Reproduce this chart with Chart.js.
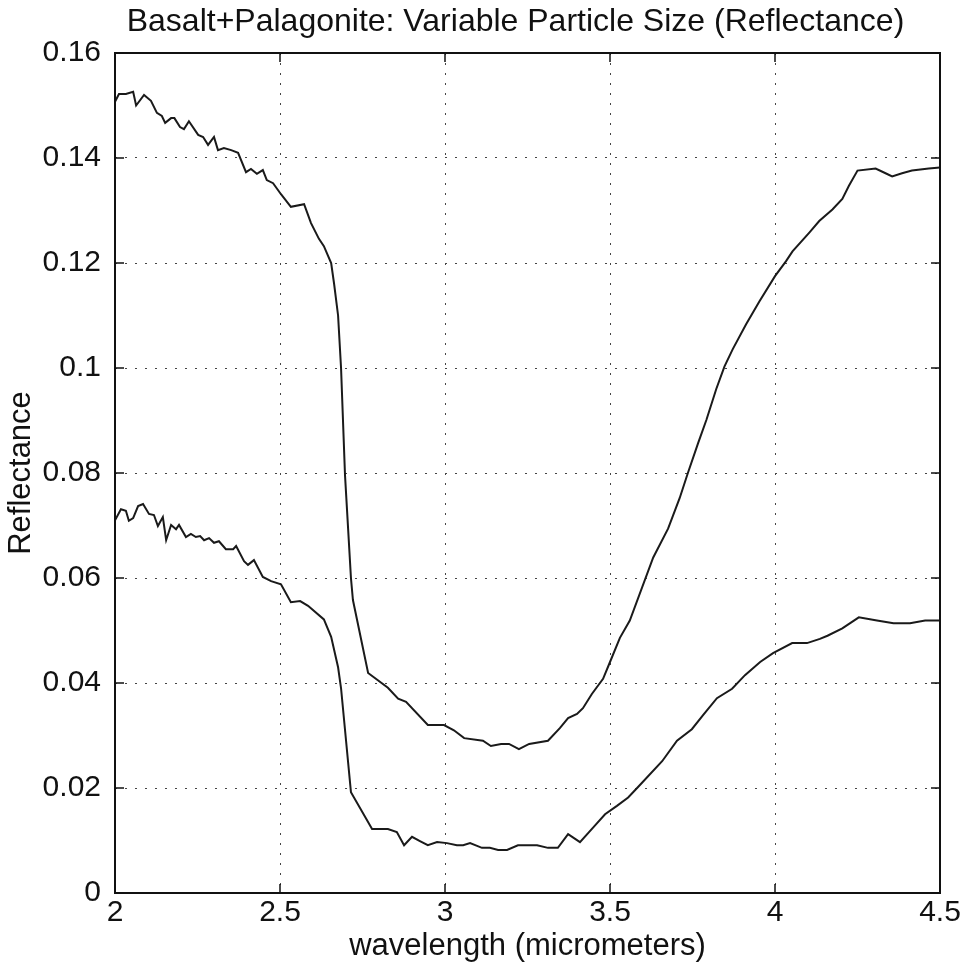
<!DOCTYPE html>
<html>
<head>
<meta charset="utf-8">
<script src="https://cdn.jsdelivr.net/npm/chart.js@4.4.1/dist/chart.umd.min.js"></script>
<style>
  html, body { margin: 0; padding: 0; background: #fff; }
</style>
</head>
<body>
<canvas id="reflChart" width="967" height="968"></canvas>
<script>
// upper curve - wavelength in micrometers, reflectance
const upperWl = [2.000, 2.012, 2.033, 2.055, 2.064, 2.088, 2.109, 2.127, 2.142, 2.152, 2.170, 2.180, 2.197, 2.209, 2.224,
  2.252, 2.267, 2.282, 2.300, 2.312, 2.330, 2.352, 2.373, 2.397, 2.412, 2.430, 2.448, 2.460, 2.479, 2.503,
  2.533, 2.573, 2.594, 2.618, 2.633, 2.655, 2.664, 2.676, 2.685, 2.697, 2.715, 2.721, 2.767, 2.827, 2.858,
  2.882, 2.948, 2.997, 3.027, 3.058, 3.115, 3.139, 3.170, 3.194, 3.224, 3.255, 3.312, 3.348, 3.373, 3.400,
  3.418, 3.445, 3.479, 3.500, 3.530, 3.560, 3.631, 3.676, 3.711, 3.736, 3.767, 3.792, 3.822, 3.847, 3.872,
  3.912, 3.953, 4.000, 4.033, 4.053, 4.104, 4.134, 4.174, 4.204, 4.224, 4.250, 4.305, 4.335, 4.355, 4.385,
  4.415, 4.466, 4.500];
const upperRefl = [0.1507, 0.1522, 0.1522, 0.1526, 0.1500, 0.1520, 0.1509, 0.1486, 0.1480, 0.1467, 0.1476, 0.1476, 0.1459, 0.1455, 0.1470,
  0.1444, 0.1440, 0.1425, 0.1440, 0.1415, 0.1419, 0.1415, 0.1410, 0.1373, 0.1379, 0.1370, 0.1377, 0.1358, 0.1352, 0.1331,
  0.1307, 0.1312, 0.1276, 0.1246, 0.1232, 0.1200, 0.1160, 0.1100, 0.1000, 0.0796, 0.0600, 0.0558, 0.0419, 0.0391, 0.0370,
  0.0364, 0.0320, 0.0320, 0.0310, 0.0295, 0.0290, 0.0280, 0.0284, 0.0284, 0.0274, 0.0284, 0.0290, 0.0314, 0.0333, 0.0341,
  0.0352, 0.0379, 0.0408, 0.0440, 0.0486, 0.0519, 0.0639, 0.0694, 0.0752, 0.0800, 0.0857, 0.0901, 0.0960, 0.1003, 0.1036,
  0.1083, 0.1127, 0.1175, 0.1203, 0.1222, 0.1258, 0.1280, 0.1302, 0.1322, 0.1347, 0.1376, 0.1380, 0.1371, 0.1365, 0.1371,
  0.1376, 0.1380, 0.1382];

// lower curve
const lowerWl = [2.000, 2.018, 2.033, 2.042, 2.055, 2.070, 2.085, 2.103, 2.118, 2.130, 2.145, 2.155, 2.170, 2.185, 2.194,
  2.215, 2.230, 2.245, 2.258, 2.270, 2.285, 2.300, 2.315, 2.336, 2.358, 2.367, 2.391, 2.403, 2.421, 2.448,
  2.473, 2.503, 2.533, 2.561, 2.585, 2.633, 2.655, 2.676, 2.685, 2.715, 2.779, 2.827, 2.854, 2.876, 2.900,
  2.924, 2.948, 2.976, 3.006, 3.036, 3.055, 3.076, 3.112, 3.136, 3.161, 3.188, 3.221, 3.279, 3.312, 3.342,
  3.373, 3.409, 3.448, 3.485, 3.521, 3.555, 3.585, 3.658, 3.703, 3.748, 3.782, 3.824, 3.870, 3.909, 3.955,
  3.994, 4.052, 4.097, 4.136, 4.159, 4.204, 4.254, 4.309, 4.359, 4.409, 4.455, 4.500];
const lowerRefl = [0.0710, 0.0731, 0.0728, 0.0709, 0.0714, 0.0737, 0.0741, 0.0722, 0.0720, 0.0699, 0.0716, 0.0672, 0.0701, 0.0693, 0.0701,
  0.0678, 0.0684, 0.0678, 0.0680, 0.0672, 0.0676, 0.0667, 0.0670, 0.0655, 0.0655, 0.0661, 0.0632, 0.0625, 0.0634, 0.0602,
  0.0594, 0.0588, 0.0554, 0.0556, 0.0547, 0.0521, 0.0488, 0.0430, 0.0390, 0.0192, 0.0122, 0.0122, 0.0116, 0.0091, 0.0107,
  0.0099, 0.0091, 0.0097, 0.0095, 0.0091, 0.0091, 0.0095, 0.0086, 0.0086, 0.0082, 0.0082, 0.0091, 0.0091, 0.0086, 0.0086,
  0.0112, 0.0097, 0.0124, 0.0150, 0.0166, 0.0182, 0.0202, 0.0251, 0.0290, 0.0312, 0.0339, 0.0371, 0.0389, 0.0415, 0.0440,
  0.0457, 0.0476, 0.0476, 0.0484, 0.0490, 0.0504, 0.0525, 0.0519, 0.0514, 0.0514, 0.0519, 0.0519];

const xTicks = [2, 2.5, 3, 3.5, 4, 4.5];
const yTicks = [0, 0.02, 0.04, 0.06, 0.08, 0.1, 0.12, 0.14, 0.16];
const chartTitle = 'Basalt+Palagonite: Variable Particle Size (Reflectance)';

const toPoints = (xs, ys) => xs.map((x, i) => ({ x: x, y: ys[i] }));

// box around the axes + inward ticks (matlab look), and the title
const framePlugin = {
  id: 'frame',
  afterDraw(chart) {
    const { ctx, chartArea: a, scales } = chart;
    ctx.save();
    ctx.strokeStyle = '#111';
    ctx.lineWidth = 2;
    ctx.strokeRect(a.left, a.top, a.right - a.left, a.bottom - a.top);
    ctx.lineWidth = 1.5;
    const len = 9;
    ctx.beginPath();
    xTicks.forEach(v => {
      const px = scales.x.getPixelForValue(v);
      ctx.moveTo(px, a.bottom); ctx.lineTo(px, a.bottom - len);
      ctx.moveTo(px, a.top); ctx.lineTo(px, a.top + len);
    });
    yTicks.forEach(v => {
      const py = scales.y.getPixelForValue(v);
      ctx.moveTo(a.left, py); ctx.lineTo(a.left + len, py);
      ctx.moveTo(a.right, py); ctx.lineTo(a.right - len, py);
    });
    ctx.stroke();

    // title sits a bit left of the plot centre in the original
    ctx.fillStyle = '#111';
    ctx.font = '32px "Liberation Sans", Arial, Helvetica, sans-serif';
    ctx.textAlign = 'center';
    ctx.textBaseline = 'middle';
    ctx.fillText(chartTitle, (a.left + a.right) / 2 - 12, 22);
    ctx.restore();
  }
};

Chart.defaults.font.family = '"Liberation Sans", Arial, Helvetica, sans-serif';
Chart.defaults.color = '#111';

const ctx = document.getElementById('reflChart').getContext('2d');
new Chart(ctx, {
  type: 'line',
  data: {
    datasets: [
      {
        data: toPoints(upperWl, upperRefl),
        borderColor: '#1a1a1a',
        borderWidth: 2,
        pointRadius: 0,
        tension: 0,
        fill: false
      },
      {
        data: toPoints(lowerWl, lowerRefl),
        borderColor: '#1a1a1a',
        borderWidth: 2,
        pointRadius: 0,
        tension: 0,
        fill: false
      }
    ]
  },
  options: {
    responsive: false,
    animation: false,
    devicePixelRatio: 1,
    layout: { padding: { left: 0, right: 27, top: 53, bottom: 0 } },
    plugins: {
      legend: { display: false },
      tooltip: { enabled: false },
      title: { display: false }
    },
    scales: {
      x: {
        type: 'linear',
        min: 2,
        max: 4.5,
        afterBuildTicks: scale => { scale.ticks = xTicks.map(v => ({ value: v })); },
        afterFit: scale => { scale.height = 75; },
        grid: { color: '#444', lineWidth: 1, drawTicks: false },
        border: { display: false, dash: [2, 8] },
        ticks: { font: { size: 30 }, padding: 2, maxRotation: 0, callback: v => String(v) },
        title: {
          display: true,
          text: 'wavelength (micrometers)',
          font: { size: 31 },
          padding: { top: 0, bottom: 3 }
        }
      },
      y: {
        min: 0,
        max: 0.16,
        afterBuildTicks: scale => { scale.ticks = yTicks.map(v => ({ value: v })); },
        afterFit: scale => { scale.width = 115; },
        grid: { color: '#444', lineWidth: 1, drawTicks: false },
        border: { display: false, dash: [2, 8] },
        ticks: { font: { size: 30 }, padding: 14, callback: v => String(v) },
        title: {
          display: true,
          text: 'Reflectance',
          font: { size: 31 },
          padding: { top: 3, bottom: 0 }
        }
      }
    }
  },
  plugins: [framePlugin]
});
</script>
</body>
</html>
